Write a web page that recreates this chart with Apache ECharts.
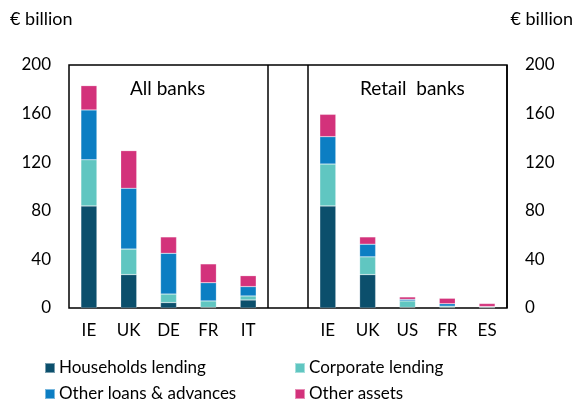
<!DOCTYPE html>
<html lang="en">
<head>
    <meta charset="UTF-8">
    <title>Bank assets by country</title>
    <script src="https://cdn.jsdelivr.net/npm/echarts@6/dist/echarts.min.js"></script>
</head>
<body style="margin:0">
<div id="chart" style="width:575px;height:400px"></div>
<script>
    // countries in each panel
    var allBanksCountries = ['IE', 'UK', 'DE', 'FR', 'IT'];
    var retailCountries = ['IE', 'UK', 'US', 'FR', 'ES'];

    // € billion, all banks
    var allHouseholds = [84, 27.5, 4.5, 0.5, 6.6];
    var allCorporate = [38, 21, 7, 5.3, 3.3];
    var allOtherLoans = [41, 50, 33.5, 15, 7.7];
    var allOtherAssets = [20, 31, 13.5, 15.5, 9];

    // € billion, retail banks
    var retailHouseholds = [84, 27.5, 0.5, 0.5, 0.3];
    var retailCorporate = [34.5, 14.6, 5.3, 1, 0.7];
    var retailOtherLoans = [22.5, 10.4, 1.3, 2, 0.2];
    var retailOtherAssets = [18.4, 6, 2, 4.5, 2.5];

    var seriesNames = ['Households lending', 'Corporate lending', 'Other loans & advances', 'Other assets'];
    var colors = ['#0B4F6C', '#60C6C1', '#0C7EC3', '#D3327B'];
    var yTicks = [0, 40, 80, 120, 160, 200];

    var font = 'Lato';
    var categories = allBanksCountries.concat(['']).concat(retailCountries);

    function joined(a, b) {
        return a.concat([null]).concat(b);
    }
    var seriesData = [
        joined(allHouseholds, retailHouseholds),
        joined(allCorporate, retailCorporate),
        joined(allOtherLoans, retailOtherLoans),
        joined(allOtherAssets, retailOtherAssets)
    ];

    var chart = echarts.init(document.getElementById('chart'));

    var yAxisBase = {
        type: 'value',
        min: yTicks[0],
        max: yTicks[yTicks.length - 1],
        interval: 40,
        axisLine: {show: false},
        axisTick: {show: false},
        splitLine: {show: false},
        axisLabel: {color: '#000', fontSize: 17, fontFamily: font, margin: 18}
    };

    var legendBase = {
        orient: 'vertical', top: 353, height: 60,
        icon: 'rect', itemWidth: 10, itemHeight: 10, itemGap: 6,
        textStyle: {color: '#000', fontSize: 17, fontFamily: font, lineHeight: 20, padding: [0, 0, 0, -1]}
    };

    var option = {
        backgroundColor: '#fff',
        animation: false,
        grid: {
            left: 69, right: 68, top: 65, bottom: 92,
            show: true, borderColor: '#000', borderWidth: 1.5
        },
        xAxis: {
            type: 'category',
            data: categories,
            axisLine: {show: false},
            axisTick: {show: false},
            axisLabel: {color: '#000', fontSize: 17, fontFamily: font, margin: 14, interval: 0},
            splitLine: {
                show: true,
                interval: function (index) { return index === 5 || index === 6; },
                lineStyle: {color: '#000', width: 1.5}
            }
        },
        yAxis: [
            Object.assign({}, yAxisBase, {position: 'left'}),
            Object.assign({}, yAxisBase, {position: 'right'})
        ],
        legend: [
            Object.assign({}, legendBase, {data: [seriesNames[0], seriesNames[2]], left: 39}),
            Object.assign({}, legendBase, {data: [seriesNames[1], seriesNames[3]], left: 289})
        ],
        graphic: [
            {type: 'text', left: 10, top: 10, style: {text: '€ billion', fontSize: 18, fontFamily: font, fill: '#000'}},
            {type: 'text', right: 2, top: 10, style: {text: '€ billion', fontSize: 18, fontFamily: font, fill: '#000'}},
            {type: 'text', left: 130, top: 79, style: {text: 'All banks', fontSize: 19, fontFamily: font, fill: '#000'}},
            {type: 'text', left: 360, top: 79, style: {text: 'Retail  banks', fontSize: 19, fontFamily: font, fill: '#000'}}
        ],
        series: seriesNames.map(function (name, i) {
            return {
                name: name,
                type: 'bar',
                stack: 'total',
                barWidth: 16,
                itemStyle: {color: colors[i], borderColor: 'rgba(255,255,255,0.45)', borderWidth: 0.5},
                data: seriesData[i]
            };
        })
    };

    chart.setOption(option);
</script>
</body>
</html>
